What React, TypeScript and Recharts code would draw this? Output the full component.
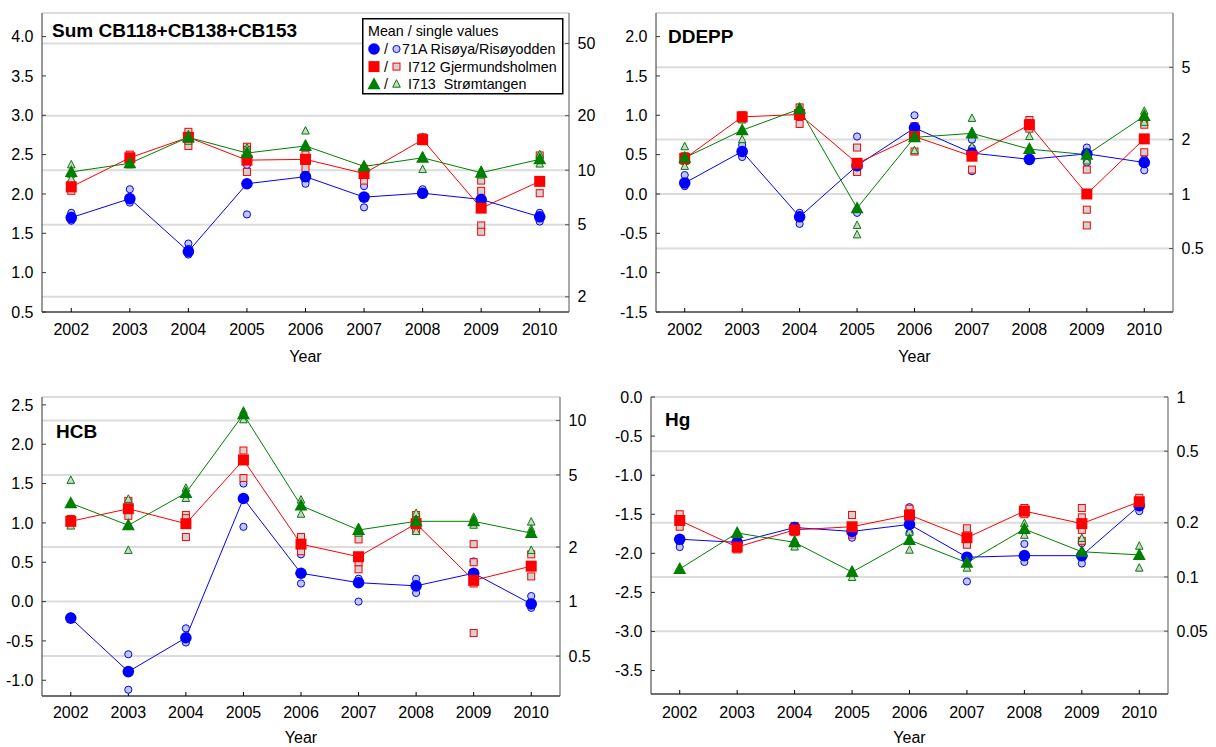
import React from 'react';
import { ComposedChart, Line, Scatter, XAxis, YAxis, CartesianGrid, Legend, Label } from 'recharts';

const years = [2002, 2003, 2004, 2005, 2006, 2007, 2008, 2009, 2010];
const stationNames = ['71A Risøya/Risøyodden', 'I712 Gjermundsholmen', 'I713  Strømtangen'];
const legendHeading = 'Mean / single values';
const xLabel = 'Year';

// Panel 1: Sum CB118+CB138+CB153 (ln scale)
const cbLeftTicks = [0.5, 1.0, 1.5, 2.0, 2.5, 3.0, 3.5, 4.0];
const cbRightTicks = [2, 5, 10, 20, 50];
const cbMean71A = [1.70, 1.94, 1.27, 2.13, 2.22, 1.96, 2.01, 1.93, 1.71];
const cbMeanI712 = [2.09, 2.46, 2.72, 2.43, 2.44, 2.26, 2.69, 1.82, 2.16];
const cbMeanI713 = [2.28, 2.39, 2.72, 2.52, 2.61, 2.35, 2.46, 2.27, 2.44];
const cbSingle71A = [[1.76, 1.72, 1.67, 1.66], [2.06, 1.96, 1.93, 1.89], [1.37, 1.30, 1.25, 1.23], [2.37, 2.14, 1.74], [2.22, 2.16, 2.13], [2.10, 1.97, 1.95, 1.83], [2.06, 2.02, 1.99], [1.94, 1.90, 1.86], [1.76, 1.71, 1.65]];
const cbSingleI712 = [[2.12, 2.08, 2.04], [2.50, 2.47, 2.42], [2.79, 2.71, 2.61], [2.60, 2.56, 2.43, 2.28], [2.50, 2.45, 2.33], [2.32, 2.24, 2.17], [2.72, 2.68], [2.17, 2.04, 1.60, 1.52], [2.49, 2.16, 2.01]];
const cbSingleI713 = [[2.37, 2.25, 2.19], [2.42, 2.37], [2.75, 2.70, 2.67], [2.58, 2.53, 2.45], [2.80, 2.63, 2.43], [2.36, 2.32], [2.72, 2.48, 2.31], [2.30, 2.24], [2.50, 2.43, 2.38]];

// Panel 2: DDEPP
const ddLeftTicks = [-1.5, -1.0, -0.5, 0.0, 0.5, 1.0, 1.5, 2.0];
const ddRightTicks = [0.5, 1, 2, 5];
const ddMean71A = [0.14, 0.54, -0.29, 0.36, 0.84, 0.52, 0.44, 0.51, 0.40];
const ddMeanI712 = [0.45, 0.98, 1.01, 0.39, 0.73, 0.48, 0.88, 0.00, 0.70];
const ddMeanI713 = [0.46, 0.81, 1.08, -0.18, 0.72, 0.77, 0.57, 0.50, 0.99];
const ddSingle71A = [[0.24, 0.15, 0.10], [0.62, 0.55, 0.47], [-0.24, -0.28, -0.38], [0.73, 0.38, -0.24], [1.00, 0.86, 0.80], [0.69, 0.58, 0.29], [0.46, 0.42], [0.59, 0.50, 0.40], [0.44, 0.38, 0.30]];
const ddSingleI712 = [[0.48, 0.42], [1.00, 0.97], [1.10, 1.03, 0.89], [0.59, 0.40, 0.28], [0.86, 0.77, 0.54], [0.47, 0.31], [0.94, 0.90, 0.83], [0.31, -0.20, -0.40], [0.88, 0.71, 0.53]];
const ddSingleI713 = [[0.60, 0.46, 0.35], [0.94, 0.69], [1.10, 1.06], [0.39, -0.40, -0.52], [0.82, 0.76, 0.55], [0.96, 0.79, 0.60], [0.73, 0.57, 0.46], [0.53, 0.46, 0.42], [1.05, 0.99, 0.91]];

// Panel 3: HCB
const hcbLeftTicks = [-1.0, -0.5, 0.0, 0.5, 1.0, 1.5, 2.0, 2.5];
const hcbRightTicks = [0.5, 1, 2, 5, 10];
const hcbMean71A = [-0.21, -0.89, -0.46, 1.31, 0.36, 0.24, 0.20, 0.36, -0.03];
const hcbMeanI712 = [1.02, 1.18, 0.99, 1.80, 0.73, 0.57, 0.99, 0.27, 0.45];
const hcbMeanI713 = [1.25, 0.97, 1.38, 2.38, 1.22, 0.91, 1.02, 1.02, 0.87];
const hcbSingle71A = [[-0.19, -0.22], [-0.67, -1.12], [-0.34, -0.47, -0.52], [1.50, 0.95], [0.60, 0.23], [0.29, 0.00], [0.29, 0.19, 0.11], [0.51, 0.32], [0.07, -0.05, -0.08]];
const hcbSingleI712 = [[1.05, 1.00], [1.28, 1.19, 1.09], [1.10, 1.06, 0.82], [1.92, 1.57], [0.82, 0.71, 0.64], [0.79, 0.50, 0.41], [1.10, 1.02, 0.91], [0.73, 0.50, 0.23, -0.40], [0.60, 0.45, 0.32]];
const hcbSingleI713 = [[1.54, 0.96], [1.30, 0.65], [1.44, 1.31], [2.42, 2.31], [1.29, 1.11], [0.94, 0.87], [1.12, 1.04, 0.89], [1.07, 0.97], [1.01, 0.92, 0.65]];

// Panel 4: Hg
const hgLeftTicks = [-3.5, -3.0, -2.5, -2.0, -1.5, -1.0, -0.5, 0.0];
const hgRightTicks = [0.05, 0.1, 0.2, 0.5, 1];
const hgMean71A = [-1.82, -1.86, -1.67, -1.72, -1.63, -2.05, -2.03, -2.03, -1.39];
const hgMeanI712 = [-1.58, -1.92, -1.70, -1.66, -1.51, -1.80, -1.46, -1.62, -1.34];
const hgMeanI713 = [-2.20, -1.74, -1.86, -2.24, -1.83, -2.12, -1.69, -1.98, -2.02];
const hgSingle71A = [[-1.86, -1.92], [-1.82, -1.87], [-1.65, -1.68], [-1.65, -1.80], [-1.41, -1.74], [-1.79, -2.36], [-1.88, -2.11], [-1.87, -2.13], [-1.38, -1.46]];
const hgSingleI712 = [[-1.50, -1.58, -1.66], [-1.88, -1.95], [-1.65, -1.73], [-1.51, -1.68, -1.76], [-1.43, -1.49, -1.56], [-1.68, -1.81, -1.89], [-1.42, -1.50], [-1.42, -1.54, -1.70, -1.84], [-1.29, -1.35]];
const hgSingleI713 = [[-2.19, -2.22], [-1.73], [-1.83, -1.92], [-2.22, -2.31], [-1.73, -1.96], [-2.05, -2.19], [-1.62, -1.77], [-1.81, -2.05], [-1.91, -2.02, -2.19]];

const BLUE = '#0000ff';
const RED = '#ff0000';
const GREEN = '#008000';
const FONT = '"Liberation Sans", Arial, sans-serif';

function bigMarker(kind: string, cx: number, cy: number, key?: any) {
  if (kind === 'b') return <circle key={key} cx={cx} cy={cy} r={5.8} fill={BLUE} />;
  if (kind === 'r') return <rect key={key} x={cx - 5.5} y={cy - 5.5} width={11} height={11} fill={RED} />;
  return <path key={key} d={`M${cx},${cy - 7} L${cx + 6.5},${cy + 5} L${cx - 6.5},${cy + 5} Z`} fill={GREEN} />;
}

function smallMarker(kind: string, cx: number, cy: number, key?: any) {
  if (kind === 'b') return <circle key={key} cx={cx} cy={cy} r={3.6} fill="#c4c8ee" stroke={BLUE} strokeWidth={1} />;
  if (kind === 'r') return <rect key={key} x={cx - 3.5} y={cy - 3.5} width={7} height={7} fill="#d2d2d2" stroke={RED} strokeWidth={1} />;
  return <path key={key} d={`M${cx},${cy - 4.5} L${cx + 3.8},${cy + 3} L${cx - 3.8},${cy + 3} Z`} fill="#d2d2d2" stroke={GREEN} strokeWidth={1} />;
}

function LegendBox() {
  const rows = [
    { kind: 'b', label: stationNames[0], x: 40 },
    { kind: 'r', label: stationNames[1], x: 46 },
    { kind: 'g', label: stationNames[2], x: 46 },
  ];
  return (
    <svg width={202} height={77} style={{ display: 'block', fontFamily: FONT }}>
      <rect x={0.75} y={0.75} width={200} height={75} fill="#fff" stroke="#000" strokeWidth={1.5} />
      <text x={6} y={18} fontSize={14.3} fill="#000">{legendHeading}</text>
      {rows.map((r, i) => {
        const cy = 31 + i * 17.6;
        return (
          <g key={r.kind}>
            {bigMarker(r.kind, 12, cy)}
            <text x={22} y={cy + 5} fontSize={14.3} fill="#000">/</text>
            {smallMarker(r.kind, 34.5, cy)}
            <text x={r.x} y={cy + 5} fontSize={14.3} fill="#000" style={{ whiteSpace: 'pre' }}>{r.label}</text>
          </g>
        );
      })}
    </svg>
  );
}

type PanelProps = {
  title: string;
  titleLeft: number;
  titleTop: number;
  left: number;
  top: number;
  width: number;
  height: number;
  marginTop: number;
  leftW: number;
  rightW: number;
  xH: number;
  domain: [number, number];
  leftTicks: number[];
  rightTicks: number[];
  means: number[][];
  singles: number[][][];
  xTickMargin: number;
  yearOffset: number;
  legend?: boolean;
};

const kinds = ['b', 'r', 'g'];
const colors = [BLUE, RED, GREEN];

function Panel(p: PanelProps) {
  const rows = years.map((year, i) => ({ year, b: p.means[0][i], r: p.means[1][i], g: p.means[2][i] }));
  const pts = p.singles.map((s) => s.flatMap((vals, i) => vals.map((v) => ({ year: years[i], v }))));
  const logTicks = p.rightTicks.map((t) => Math.log(t));
  const xDomain: [number, number] = [2001.5, 2010.5];
  const tickStyle = { fill: '#000', fontSize: 16, fontFamily: FONT };
  return (
    <div style={{ position: 'absolute', left: p.left, top: p.top, width: p.width, height: p.height }}>
      <ComposedChart width={p.width} height={p.height} data={rows} margin={{ top: p.marginTop, right: 0, bottom: 0, left: 0 }}>
        <CartesianGrid xAxisId="bottom" yAxisId="right" vertical={false} stroke="#dcdcdc" strokeWidth={2} />
        <XAxis xAxisId="bottom" dataKey="year" type="number" domain={xDomain} ticks={years} interval={0}
          height={p.xH} tickSize={-4} tickMargin={p.xTickMargin} stroke="#000" tick={tickStyle} allowDataOverflow>
          <Label value={xLabel} position="insideBottom" offset={p.yearOffset} fill="#000" fontSize={16} fontFamily={FONT} />
        </XAxis>
        <XAxis xAxisId="top" orientation="top" dataKey="year" type="number" domain={xDomain} ticks={years} interval={0}
          height={0} tickSize={-4} tickFormatter={() => ''} stroke="#000" allowDataOverflow />
        <YAxis yAxisId="left" type="number" domain={p.domain} ticks={p.leftTicks} interval={0} width={p.leftW}
          tickSize={-4} tickMargin={12.5} stroke="#333" tick={tickStyle} allowDataOverflow
          tickFormatter={(v: number) => v.toFixed(1)} />
        <YAxis yAxisId="right" orientation="right" type="number" domain={p.domain} ticks={logTicks} interval={0}
          width={p.rightW} tickSize={-4} tickMargin={12.5} stroke="#555" tick={tickStyle} allowDataOverflow
          tickFormatter={(v: number) => String(+Math.exp(v).toPrecision(2))} />
        {kinds.map((k, i) => (
          <Scatter key={'s' + k} xAxisId="bottom" yAxisId="left" data={pts[i]} dataKey="v" isAnimationActive={false}
            shape={(sp: any) => smallMarker(k, sp.cx, sp.cy)} />
        ))}
        {kinds.map((k, i) => (
          <Line key={'l' + k} xAxisId="bottom" yAxisId="left" dataKey={k} stroke={colors[i]} strokeWidth={1}
            isAnimationActive={false} activeDot={false}
            dot={(dp: any) => bigMarker(k, dp.cx, dp.cy, `d${k}${dp.index}`)} />
        ))}
        {p.legend ? (
          <Legend layout="vertical" align="center" verticalAlign="middle"
            wrapperStyle={{ position: 'absolute', left: 362, top: 18, width: 202, height: 77 }}
            content={() => <LegendBox />} />
        ) : null}
      </ComposedChart>
      <div style={{ position: 'absolute', left: p.titleLeft, top: p.titleTop, fontFamily: FONT, fontWeight: 'bold', fontSize: 19, lineHeight: '20px', color: '#000', whiteSpace: 'nowrap' }}>
        {p.title}
      </div>
    </div>
  );
}

export default function App() {
  return (
    <div style={{ position: 'absolute', left: 0, top: 0, width: 1216, height: 747, background: '#fff', fontFamily: FONT, overflow: 'hidden' }}>
      <Panel title="Sum CB118+CB138+CB153" titleLeft={52} titleTop={21} left={0} top={0} width={600} height={370}
        marginTop={13} leftW={42} rightW={31} xH={58} domain={[0.5, 4.3]} leftTicks={cbLeftTicks} rightTicks={cbRightTicks}
        means={[cbMean71A, cbMeanI712, cbMeanI713]} singles={[cbSingle71A, cbSingleI712, cbSingleI713]}
        xTickMargin={16} yearOffset={8} legend />
      <Panel title="DDEPP" titleLeft={68} titleTop={27} left={600} top={0} width={616} height={370}
        marginTop={13} leftW={56} rightW={43} xH={58} domain={[-1.5, 2.3]} leftTicks={ddLeftTicks} rightTicks={ddRightTicks}
        means={[ddMean71A, ddMeanI712, ddMeanI713]} singles={[ddSingle71A, ddSingleI712, ddSingleI713]}
        xTickMargin={15.5} yearOffset={8} />
      <Panel title="HCB" titleLeft={56} titleTop={42} left={0} top={380} width={600} height={367}
        marginTop={17} leftW={42} rightW={40} xH={51} domain={[-1.2, 2.6]} leftTicks={hcbLeftTicks} rightTicks={hcbRightTicks}
        means={[hcbMean71A, hcbMeanI712, hcbMeanI713]} singles={[hcbSingle71A, hcbSingleI712, hcbSingleI713]}
        xTickMargin={15} yearOffset={4} />
      <Panel title="Hg" titleLeft={65} titleTop={30} left={600} top={380} width={616} height={367}
        marginTop={17} leftW={51} rightW={48} xH={53} domain={[-3.8, 0]} leftTicks={hgLeftTicks} rightTicks={hgRightTicks}
        means={[hgMean71A, hgMeanI712, hgMeanI713]} singles={[hgSingle71A, hgSingleI712, hgSingleI713]}
        xTickMargin={16.5} yearOffset={4} />
    </div>
  );
}
